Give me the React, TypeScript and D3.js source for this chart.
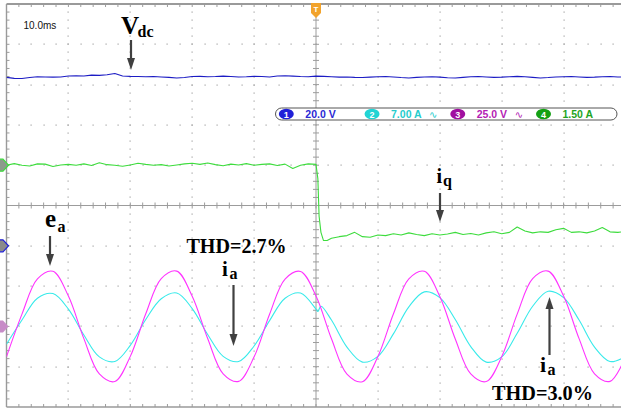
import React from 'react';
import * as d3 from 'd3';

const W = 621;
const H = 413;

// graticule: 10 x 10 divisions, centre at (316, 205.5)
const X0 = 6.5;
const Y0 = 4;
const DIV_W = 61.9;
const DIV_H = 40.3;
const NDIV = 10;
const MINOR = 5;
const X1 = X0 + NDIV * DIV_W;
const Y1 = Y0 + NDIV * DIV_H;
const XC = X0 + 5 * DIV_W;
const YC = Y0 + 5 * DIV_H;

// time base: 10 ms/div, trigger at centre
const T_MIN = -50;
const T_MAX = 50;
const FINE_DT = 1.25; // ms between samples of the noisy traces
const COARSE_DT = 2.5; // ms between samples of the ac traces

// channel settings (units per division, ground position in divisions from centre)
const CH1_PER_DIV = 20.0; // V
const CH1_POS = -1;
const CH2_PER_DIV = 7.0; // A
const CH2_POS = -3;
const CH3_PER_DIV = 25.0; // V
const CH3_POS = -3;
const CH4_PER_DIV = 1.5; // A
const CH4_POS = 1;

// ch1: dc link voltage Vdc (V), t = -50 .. 50 ms every 1.25 ms
const vdcValues = [
  83.6, 83.1, 83.0, 83.5, 83.9, 83.8, 83.7, 83.8, 84.3, 84.4,
  84.3, 84.7, 84.6, 84.9, 85.5, 84.3, 84.1, 84.0, 83.9, 84.0,
  83.8, 83.6, 83.3, 83.5, 84.0, 84.1, 83.9, 84.0, 84.2, 84.0,
  83.8, 83.9, 84.1, 84.0, 83.8, 84.3, 84.4, 84.2, 84.0, 83.9,
  84.2, 84.1, 83.9, 83.7, 83.8, 83.6, 83.5, 83.7, 83.9, 84.0,
  83.8, 83.5, 83.3, 83.6, 83.8, 83.9, 83.7, 83.4, 83.3, 83.6,
  83.9, 84.0, 83.8, 83.6, 83.7, 83.9, 84.1, 83.9, 83.6, 83.3,
  83.5, 83.8, 83.9, 84.0, 83.8, 83.6, 83.7, 83.9, 84.0, 83.8,
  83.7,
];

// ch4: reactive current iq (A), before the step: t = -50 .. 0 every 1.25 ms
const iqBefore = [
  0.0, 0.06, 0.0, -0.03, 0.05, 0.04, -0.05, 0.01, 0.03, 0.0,
  0.05, -0.01, 0.09, 0.02, 0.0, -0.04, 0.01, 0.07, 0.03, 0.0,
  0.02, -0.03, 0.01, 0.05, 0.07, 0.03, 0.08, 0.02, -0.02, 0.04,
  0.01, 0.06, 0.0, 0.03, 0.05, -0.01, 0.04, -0.12, 0.0, 0.05,
  0.03,
];
// the step itself: [t ms, A]
const iqStep = [
  [0.3, -0.5],
  [0.5, -1.9],
  [0.8, -2.5],
  [1.2, -2.8],
  [1.8, -2.8],
];
// after the step: t = 2.5 .. 50 every 1.25 ms
const iqAfter = [
  -2.72, -2.66, -2.62, -2.5, -2.66, -2.68, -2.6, -2.62, -2.55, -2.6,
  -2.52, -2.58, -2.62, -2.55, -2.6, -2.56, -2.5, -2.58, -2.54, -2.6,
  -2.52, -2.48, -2.55, -2.5, -2.3, -2.45, -2.52, -2.48, -2.5, -2.4,
  -2.35, -2.5, -2.48, -2.52, -2.45, -2.32, -2.48, -2.5, -2.47,
];

// ch3: grid voltage ea (V), t = -50 .. 50 every 2.5 ms
const eaValues = [
  -18.8, 7.6, 29.5, 34.2, 18.8, -7.6, -29.5, -34.2,
  -18.6, 7.8, 29.6, 34.3, 18.7, -7.5, -29.4, -34.1,
  -18.9, 7.5, 29.4, 34.1, 18.9, -7.7, -29.6, -34.3,
  -18.7, 7.7, 29.5, 34.2, 18.6, -7.8, -29.5, -34.2,
  -18.8, 7.6, 29.6, 34.3, 18.8, -7.6, -29.4, -34.1,
  -18.9,
];

// ch2: phase current ia (A), before the step: t = -50 .. 0 every 2.5 ms
const iaBefore = [
  -3.1, 1.1, 4.9, 5.7, 3.0, -1.5, -5.3, -6.1,
  -3.3, 1.2, 4.8, 5.8, 3.1, -1.4, -5.2, -6.1,
  -3.4, 1.0, 4.9, 5.8, 3.0,
];
const iaStep = [
  [0.3, 2.6],
  [0.8, 3.5],
];
// after the step: t = 2.5 .. 50 every 2.5 ms
const iaAfter = [
  1.1, -3.6, -6.2, -5.2, -1.3, 3.4, 6.0, 5.0,
  1.2, -3.5, -6.2, -5.3, -1.2, 3.5, 6.1, 5.0,
  1.1, -3.6, -6.1, -5.2,
];

// readout bar
const legendChannels = ['1', '2', '3', '4'];
const legendLabels = ['20.0 V', '7.00 A', '25.0 V', '1.50 A'];
const legendBwLimit = [false, true, true, false];

const TRACE_COLORS = ['#1c1cc4', '#38eaea', '#ff33ff', '#3ddc3d'];
const BADGE_COLORS = ['#2020d8', '#22d4d4', '#a010a0', '#14a014'];
const LABEL_COLORS = ['#2a2ad4', '#26cccc', '#b41cb4', '#1ea41e'];

const GRID_COLOR = '#a4a4a4';
const ARROW_COLOR = '#404040';
const SERIF = '"Liberation Serif", "Times New Roman", serif';
const SANS = '"Liberation Sans", Arial, sans-serif';

type Pt = [number, number];

const x = d3.scaleLinear().domain([T_MIN, T_MAX]).range([X0, X1]);
const chScale = (perDiv: number, pos: number) =>
  d3.scaleLinear().domain([(-5 - pos) * perDiv, (5 - pos) * perDiv]).range([Y1, Y0]);

const y1 = chScale(CH1_PER_DIV, CH1_POS);
const y2 = chScale(CH2_PER_DIV, CH2_POS);
const y3 = chScale(CH3_PER_DIV, CH3_POS);
const y4 = chScale(CH4_PER_DIV, CH4_POS);

const vdcPts: Pt[] = vdcValues.map((v, i) => [T_MIN + i * FINE_DT, v]);
const iqPts: Pt[] = [
  ...iqBefore.map((v, i) => [T_MIN + i * FINE_DT, v] as Pt),
  ...(iqStep as Pt[]),
  ...iqAfter.map((v, i) => [2.5 + i * FINE_DT, v] as Pt),
];
const eaPts: Pt[] = eaValues.map((v, i) => [T_MIN + i * COARSE_DT, v]);
const iaPts: Pt[] = [
  ...iaBefore.map((v, i) => [T_MIN + i * COARSE_DT, v] as Pt),
  ...(iaStep as Pt[]),
  ...iaAfter.map((v, i) => [2.5 + i * COARSE_DT, v] as Pt),
];

const makeLine = (ys: d3.ScaleLinear<number, number>, curve: d3.CurveFactory) =>
  d3.line<Pt>().x(d => x(d[0])).y(d => ys(d[1])).curve(curve);

const Arrow: React.FC<{ x: number; from: number; to: number }> = ({ x: ax, from, to }) => {
  const dir = to > from ? 1 : -1;
  const headLen = 12;
  const half = 4;
  const base = to - dir * headLen;
  return (
    <g>
      <line x1={ax} y1={from} x2={ax} y2={base} stroke={ARROW_COLOR} strokeWidth={2.2} />
      <path d={`M${ax - half},${base} L${ax + half},${base} L${ax},${to} Z`} fill={ARROW_COLOR} />
    </g>
  );
};

const Graticule: React.FC = () => {
  const minorX = d3.range(1, NDIV * MINOR).map(k => X0 + (k * DIV_W) / MINOR);
  const minorY = d3.range(1, NDIV * MINOR).map(k => Y0 + (k * DIV_H) / MINOR);
  const majors = d3.range(1, NDIV).filter(i => i !== 5);
  const dots: JSX.Element[] = [];
  majors.forEach(i => {
    const gx = Math.round(X0 + i * DIV_W);
    minorY.forEach((py, j) =>
      dots.push(<rect key={`v${i}-${j}`} x={gx - 0.5} y={Math.round(py) - 0.5} width={1.2} height={1.2} fill={GRID_COLOR} />)
    );
    const gy = Math.round(Y0 + i * DIV_H);
    minorX.forEach((px, j) =>
      dots.push(<rect key={`h${i}-${j}`} x={Math.round(px) - 0.5} y={gy - 0.5} width={1.2} height={1.2} fill={GRID_COLOR} />)
    );
  });
  return (
    <g>
      {dots}
      {/* centre cross */}
      <line x1={X0} x2={X1} y1={YC} y2={YC} stroke="#9c9c9c" strokeWidth={1} />
      <line x1={XC} x2={XC} y1={Y0} y2={Y1} stroke="#9c9c9c" strokeWidth={1} />
      {minorX.map((px, k) => (
        <line key={`cx${k}`} x1={px} x2={px} y1={YC - 3} y2={YC + 3} stroke="#9c9c9c" strokeWidth={1} />
      ))}
      {minorY.map((py, k) => (
        <line key={`cy${k}`} x1={XC - 3} x2={XC + 3} y1={py} y2={py} stroke="#9c9c9c" strokeWidth={1} />
      ))}
      {/* frame ticks */}
      {minorX.map((px, k) => (
        <g key={`fx${k}`}>
          <line x1={px} x2={px} y1={Y0} y2={Y0 + 3} stroke="#9c9c9c" />
          <line x1={px} x2={px} y1={Y1 - 3} y2={Y1} stroke="#9c9c9c" />
        </g>
      ))}
      {minorY.map((py, k) => (
        <line key={`fy${k}`} x1={X0} x2={X0 + 3} y1={py} y2={py} stroke="#9c9c9c" />
      ))}
      <line x1={X0} x2={W} y1={Y0} y2={Y0} stroke="#9a9a9a" strokeWidth={1.8} />
      <line x1={X0} x2={W} y1={Y1} y2={Y1} stroke="#9a9a9a" strokeWidth={1.4} />
      <line x1={X0} x2={X0} y1={Y0} y2={Y1} stroke="#9a9a9a" strokeWidth={1.4} />
    </g>
  );
};

const App: React.FC = () => {
  const vdcLine = makeLine(y1, d3.curveLinear)(vdcPts) || '';
  const iqLine = makeLine(y4, d3.curveLinear)(iqPts) || '';
  const eaLine = makeLine(y3, d3.curveCatmullRom)(eaPts) || '';
  const iaLine = makeLine(y2, d3.curveCatmullRom)(iaPts) || '';

  const g1 = y1(0);
  const g3 = y3(0);
  const g4 = y4(0);

  const legendX = d3.scaleLinear().domain([0, 3]).range([286.3, 543.5]);

  return (
    <svg
      width={W}
      height={H}
      style={{ position: 'absolute', left: 0, top: 0, background: '#fff' }}
      fontFamily={SANS}
    >
      <rect x={0} y={0} width={W} height={H} fill="#fff" />
      <Graticule />

      <defs>
        <clipPath id="screen">
          <rect x={X0} y={Y0} width={X1 - X0} height={Y1 - Y0} />
        </clipPath>
      </defs>

      <g clipPath="url(#screen)" fill="none" strokeWidth={1.1} strokeLinejoin="round">
        <path d={vdcLine} stroke={TRACE_COLORS[0]} />
        <path d={iqLine} stroke={TRACE_COLORS[3]} />
        <path d={iaLine} stroke={TRACE_COLORS[1]} />
        <path d={eaLine} stroke={TRACE_COLORS[2]} />
      </g>

      {/* time base readout */}
      <text x={23.5} y={28.5} fontSize={10} fill="#111">10.0ms</text>

      {/* trigger marker */}
      <path d={`M${XC - 5},3 H${XC + 5} V13 L${XC},18 L${XC - 5},13 Z`} fill="#f2a32c" />
      <text x={XC} y={12} fontSize={8} fontWeight="bold" fill="#fff" textAnchor="middle">T</text>

      {/* ground markers */}
      <path d={`M-4,${g4 - 6} H3 L8.5,${g4} L3,${g4 + 6} H-4 Z`} fill="#8c9a8c" stroke={TRACE_COLORS[3]} strokeWidth={1.2} />
      <path d={`M-4,${g1 - 6} H3 L8.5,${g1} L3,${g1 + 6} H-4 Z`} fill="#8a8a8a" stroke={BADGE_COLORS[0]} strokeWidth={1.2} />
      <path d={`M-4,${g3 - 6} H3 L8.5,${g3} L3,${g3 + 6} H-4 Z`} fill="#c78cc7" />

      {/* channel readout bar */}
      <rect x={275.5} y={108} width={341.5} height={12} rx={6} fill="#fff" stroke="#555" strokeWidth={1} />
      {legendChannels.map((ch, i) => {
        const cx = legendX(i);
        return (
          <g key={ch}>
            <ellipse cx={cx} cy={114} rx={7.5} ry={5.2} fill={BADGE_COLORS[i]} />
            <text x={cx} y={117.5} fontSize={9} fontWeight="bold" fill="#fff" textAnchor="middle">{ch}</text>
            <text x={cx + 19} y={118} fontSize={10.5} fontWeight="bold" fill={LABEL_COLORS[i]}>
              {legendLabels[i]}
            </text>
            {legendBwLimit[i] && (
              <text x={cx + 57} y={118} fontSize={10} fill={LABEL_COLORS[i]} fontFamily='"DejaVu Sans", sans-serif'>∿</text>
            )}
          </g>
        );
      })}

      {/* annotations */}
      <g fontFamily={SERIF} fontWeight="bold" fill="#000">
        <text>
          <tspan x={121} y={33.5} fontSize={25}>V</tspan>
          <tspan x={137.5} y={36.5} fontSize={16}>dc</tspan>
        </text>
        <text>
          <tspan x={45} y={226.5} fontSize={25}>e</tspan>
          <tspan x={57.5} y={232} fontSize={16}>a</tspan>
        </text>
        <text x={186.5} y={253} fontSize={21} textLength={100} lengthAdjust="spacingAndGlyphs">THD=2.7%</text>
        <text>
          <tspan x={222} y={276} fontSize={21}>i</tspan>
          <tspan x={229.5} y={278.5} fontSize={16}>a</tspan>
        </text>
        <text>
          <tspan x={436.5} y={183} fontSize={20}>i</tspan>
          <tspan x={443} y={186} fontSize={16}>q</tspan>
        </text>
        <text>
          <tspan x={540} y={371.5} fontSize={22}>i</tspan>
          <tspan x={547.5} y={375} fontSize={16}>a</tspan>
        </text>
        <text x={492} y={400} fontSize={22} textLength={101} lengthAdjust="spacingAndGlyphs">THD=3.0%</text>
      </g>

      <Arrow x={131} from={40} to={70} />
      <Arrow x={50} from={236} to={266} />
      <Arrow x={233.5} from={285} to={346} />
      <Arrow x={440} from={193} to={222} />
      <Arrow x={549.5} from={355} to={297} />
    </svg>
  );
};

export default App;
